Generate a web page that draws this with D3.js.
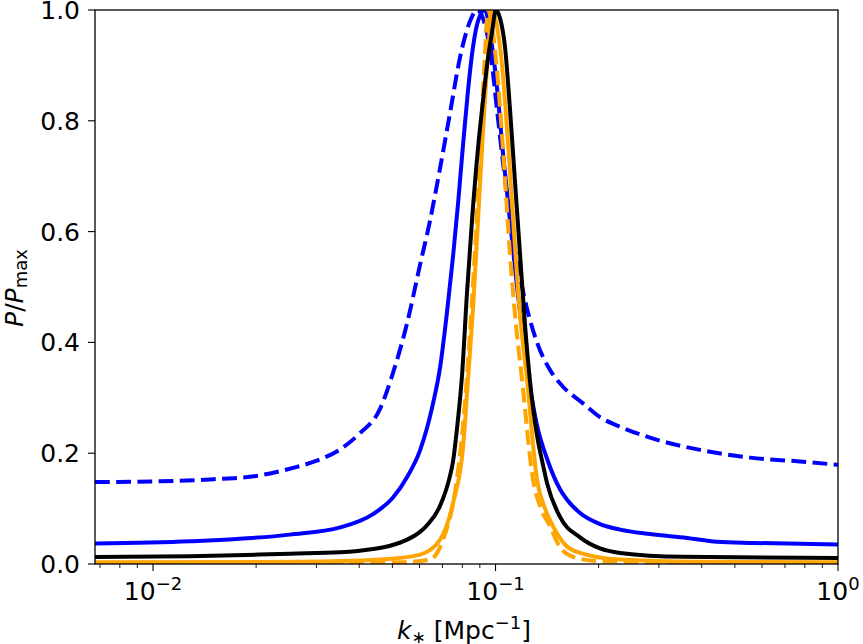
<!DOCTYPE html>
<html>
<head>
<meta charset="utf-8">
<script src="https://cdn.jsdelivr.net/npm/d3@7"></script>
<style>
body { margin: 0; background: #fff; }
text { font-family: "DejaVu Sans", sans-serif; fill: #000; }
</style>
</head>
<body>
<div id="chart"></div>
<script>
var width = 863, height = 644
var plotLeft = 95, plotRight = 838, plotTop = 10, plotBottom = 564

// blue dashed
var bdK = [0.00677, 0.01, 0.015, 0.02, 0.0251, 0.0299, 0.0352, 0.04, 0.046, 0.0502, 0.0552, 0.0602, 0.0644, 0.0689, 0.0737, 0.0788, 0.0843, 0.0883, 0.0963, 0.101, 0.1052, 0.1102, 0.1156, 0.1236, 0.1322, 0.1443, 0.1574, 0.1801, 0.2019, 0.2263, 0.2826, 0.3955, 0.5536, 0.7748, 1.0]
var bdP = [0.148, 0.149, 0.153, 0.159, 0.172, 0.186, 0.207, 0.235, 0.28, 0.345, 0.435, 0.54, 0.62, 0.715, 0.815, 0.915, 0.98, 1.0, 0.93, 0.82, 0.724, 0.625, 0.546, 0.461, 0.40, 0.35, 0.32, 0.29, 0.265, 0.25, 0.228, 0.206, 0.192, 0.185, 0.179]
// blue solid
var bsK = [0.00677, 0.01282, 0.0251, 0.0352, 0.04388, 0.0502, 0.0552, 0.0602, 0.06571, 0.0689, 0.07218, 0.07515, 0.07772, 0.08037, 0.08312, 0.08595, 0.08889, 0.0932, 0.0963, 0.101, 0.1052, 0.1102, 0.1156, 0.1203, 0.1261, 0.1322, 0.1414, 0.1543, 0.1618, 0.1765, 0.2019, 0.231, 0.2826, 0.3623, 0.4434, 0.5647, 1.0]
var bsP = [0.037, 0.041, 0.053, 0.066, 0.09, 0.12, 0.157, 0.205, 0.29, 0.355, 0.455, 0.555, 0.65, 0.756, 0.855, 0.933, 0.98, 1.0, 0.96, 0.86, 0.74, 0.62, 0.50, 0.41, 0.32, 0.25, 0.19, 0.135, 0.116, 0.092, 0.072, 0.062, 0.054, 0.047, 0.040, 0.038, 0.035]
// black solid
var bkK = [0.00677, 0.01282, 0.0251, 0.0352, 0.04388, 0.0492, 0.0552, 0.0602, 0.0631, 0.0689, 0.0737, 0.07515, 0.0772, 0.07983, 0.08256, 0.08537, 0.08889, 0.09132, 0.09446, 0.09767, 0.1003, 0.1031, 0.1066, 0.1102, 0.114, 0.1179, 0.122, 0.1261, 0.1322, 0.1377, 0.1414, 0.1543, 0.1765, 0.2019, 0.231, 0.3527, 1.0]
var bkP = [0.0126, 0.014, 0.0186, 0.021, 0.027, 0.033, 0.044, 0.058, 0.07, 0.105, 0.16, 0.185, 0.245, 0.34, 0.49, 0.62, 0.75, 0.82, 0.9, 0.96, 1.0, 0.985, 0.933, 0.822, 0.69, 0.56, 0.43, 0.33, 0.232, 0.178, 0.146, 0.085, 0.048, 0.028, 0.02, 0.013, 0.011]
// orange solid
var osK = [0.00677, 0.02687, 0.046, 0.0602, 0.0689, 0.07515, 0.08037, 0.08312, 0.08595, 0.08889, 0.09193, 0.09508, 0.09767, 0.1003, 0.1045, 0.1088, 0.1132, 0.1179, 0.1236, 0.1322, 0.1395, 0.1473, 0.1596, 0.1765, 0.231, 0.3955, 1.0]
var osP = [0.003, 0.004, 0.008, 0.017, 0.044, 0.11, 0.21, 0.333, 0.46, 0.62, 0.78, 0.92, 1.0, 0.98, 0.9, 0.76, 0.6, 0.45, 0.333, 0.152, 0.1, 0.068, 0.035, 0.02, 0.008, 0.004, 0.003]
// orange dashed
var odK = [0.00677, 0.02687, 0.05263, 0.0644, 0.07027, 0.07617, 0.08037, 0.0843, 0.0877, 0.09071, 0.09317, 0.09508, 0.09767, 0.1017, 0.1059, 0.1102, 0.1148, 0.1195, 0.1287, 0.1358, 0.1443, 0.1543, 0.1684, 0.2019, 1.0]
var odP = [0.0, 0.001, 0.003, 0.008, 0.044, 0.13, 0.25, 0.42, 0.6, 0.78, 0.92, 1.0, 0.97, 0.87, 0.72, 0.56, 0.43, 0.333, 0.152, 0.1, 0.068, 0.03, 0.013, 0.005, 0.001]

var yTicks = [0, 0.2, 0.4, 0.6, 0.8, 1.0]
var xMajor = [0.01, 0.1, 1]
var xMajorExp = ["\u22122", "\u22121", "0"]

var series = [
    {k: bdK, p: bdP, color: "#0000ff", dash: "14.8,6.4"},
    {k: bsK, p: bsP, color: "#0000ff", dash: null},
    {k: osK, p: osP, color: "#ffa500", dash: null},
    {k: odK, p: odP, color: "#ffa500", dash: "14.8,6.4"},
    {k: bkK, p: bkP, color: "#000000", dash: null}
]

var x = d3.scaleLog().domain([0.00677, 1.0]).range([plotLeft, plotRight])
var y = d3.scaleLinear().domain([0, 1]).range([plotBottom, plotTop])

var svg = d3.select("#chart").append("svg")
    .attr("width", width)
    .attr("height", height)

svg.append("clipPath").attr("id", "clip")
    .append("rect")
        .attr("x", plotLeft).attr("y", plotTop)
        .attr("width", plotRight - plotLeft).attr("height", plotBottom - plotTop)

var line = d3.line()
    .x(function(d) { return x(d[0]) })
    .y(function(d) { return y(d[1]) })
    .curve(d3.curveMonotoneX)

var plot = svg.append("g").attr("clip-path", "url(#clip)")
series.forEach(function(s) {
    plot.append("path")
        .datum(d3.zip(s.k, s.p))
        .attr("d", line)
        .attr("fill", "none")
        .attr("stroke", s.color)
        .attr("stroke-width", 4)
        .attr("stroke-dasharray", s.dash)
})

// minor ticks on the log axis
var minor = []
;[0.001, 0.01, 0.1].forEach(function(dec) {
    for (var i = 2; i <= 9; i++) {
        var v = dec * i
        if (v >= 0.00677 && v <= 1) minor.push(v)
    }
})

var xAxis = svg.append("g").attr("transform", "translate(0," + plotBottom + ")")
xAxis.selectAll("line.minor").data(minor).enter().append("line")
    .attr("x1", function(d) { return x(d) }).attr("x2", function(d) { return x(d) })
    .attr("y1", 0).attr("y2", 4)
    .attr("stroke", "#000").attr("stroke-width", 0.9)
xAxis.selectAll("line.major").data(xMajor).enter().append("line")
    .attr("x1", function(d) { return x(d) }).attr("x2", function(d) { return x(d) })
    .attr("y1", 0).attr("y2", 7)
    .attr("stroke", "#000").attr("stroke-width", 1.1)

xMajor.forEach(function(d, i) {
    var t = svg.append("text")
        .attr("x", x(d))
        .attr("y", 600)
        .attr("text-anchor", "middle")
        .attr("font-size", "25px")
    t.append("tspan").text("10")
    t.append("tspan").attr("dy", -10).attr("font-size", "18px").text(xMajorExp[i])
})

var yAxis = svg.append("g")
yAxis.selectAll("line").data(yTicks).enter().append("line")
    .attr("x1", plotLeft - 7).attr("x2", plotLeft)
    .attr("y1", function(d) { return y(d) }).attr("y2", function(d) { return y(d) })
    .attr("stroke", "#000").attr("stroke-width", 1.1)
yAxis.selectAll("text").data(yTicks).enter().append("text")
    .attr("x", plotLeft - 15)
    .attr("y", function(d) { return y(d) + 9 })
    .attr("text-anchor", "end")
    .attr("font-size", "25px")
    .text(function(d) { return d3.format(".1f")(d) })

// frame
svg.append("rect")
    .attr("x", plotLeft).attr("y", plotTop)
    .attr("width", plotRight - plotLeft).attr("height", plotBottom - plotTop)
    .attr("fill", "none").attr("stroke", "#000").attr("stroke-width", 1.3)

// axis labels
var xl = svg.append("text")
    .attr("x", 464).attr("y", 639)
    .attr("text-anchor", "middle")
    .attr("font-size", "25px")
xl.append("tspan").attr("font-style", "italic").text("k")
xl.append("tspan").attr("font-size", "17px").attr("dy", 4).text("\u2217")
xl.append("tspan").attr("dy", -4).text(" [Mpc")
xl.append("tspan").attr("font-size", "18px").attr("dy", -10).text("\u22121")
xl.append("tspan").attr("dy", 10).text("]")

var yl = svg.append("text")
    .attr("transform", "translate(23,288) rotate(-90)")
    .attr("text-anchor", "middle")
    .attr("font-size", "25px")
yl.append("tspan").attr("font-style", "italic").text("P")
yl.append("tspan").text("/")
yl.append("tspan").attr("font-style", "italic").text("P")
yl.append("tspan").attr("font-size", "18px").attr("dy", 4).text("max")
</script>
</body>
</html>
